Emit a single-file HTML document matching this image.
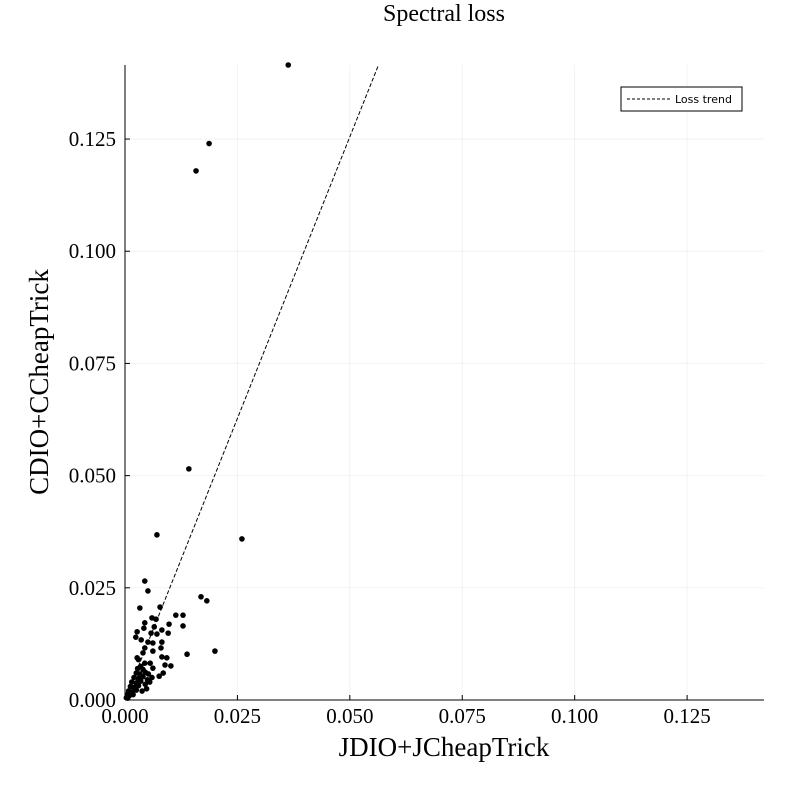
<!DOCTYPE html>
<html><head><meta charset="utf-8"><style>
body{margin:0;background:#fff;}
svg text{font-family:"Liberation Serif",serif;fill:#000;}
</style></head><body>
<svg id="chart" width="800" height="800" xmlns="http://www.w3.org/2000/svg">
<text x="444" y="21" font-size="24" text-anchor="middle">Spectral loss</text>
<g id="grid"></g>
<g id="axes"></g>
<g id="marks"></g>
<text x="444" y="756" font-size="27" text-anchor="middle">JDIO+JCheapTrick</text>
<text transform="translate(48,382) rotate(-90)" font-size="27" text-anchor="middle">CDIO+CCheapTrick</text>
<g>
<rect x="621" y="87" width="121" height="24" fill="#fff" stroke="#000" stroke-width="1"/>
<line x1="627" y1="99" x2="670" y2="99" stroke="#000" stroke-dasharray="3,2"/>
<text x="675" y="103" font-size="11" style="font-family:'DejaVu Sans',sans-serif">Loss trend</text>
</g>
</svg>
<script>
const xTicks=[0,0.025,0.05,0.075,0.1,0.125];
const yTicks=[0,0.025,0.05,0.075,0.1,0.125];
const tickLabels=["0.000","0.025","0.050","0.075","0.100","0.125"];
const xVals=[0.0363,0.0187,0.0158,0.0142,0.0071,0.0260,0.0044,0.0051,0.0169,0.0182,0.0033,0.0078,0.0113,0.0129,0.0060,0.0069,0.0129,0.0098,0.0044,0.0042,0.0065,0.0082,0.0027,0.0096,0.0058,0.0071,0.0024,0.0036,0.0051,0.0062,0.0082,0.0044,0.0080,0.0062,0.0138,0.0200,0.0040,0.0082,0.0093,0.0027,0.0056,0.0089,0.0102,0.0044,0.0062,0.0085,0.0076,0.0030,0.0035,0.0028,0.0040,0.0025,0.0033,0.0045,0.0020,0.0030,0.0040,0.0015,0.0025,0.0035,0.0050,0.0012,0.0020,0.0030,0.0008,0.0015,0.0025,0.0005,0.0010,0.0018,0.0003,0.0006,0.0045,0.0055,0.0048,0.0038,0.0060,0.0052];
const yVals=[0.1415,0.1240,0.1179,0.0515,0.0368,0.0359,0.0265,0.0243,0.0230,0.0221,0.0205,0.0207,0.0189,0.0189,0.0183,0.0180,0.0165,0.0169,0.0172,0.0160,0.0163,0.0156,0.0152,0.0149,0.0149,0.0147,0.0140,0.0134,0.0129,0.0127,0.0129,0.0116,0.0116,0.0109,0.0102,0.0109,0.0105,0.0096,0.0094,0.0094,0.0082,0.0078,0.0076,0.0082,0.0071,0.0060,0.0053,0.0090,0.0075,0.0070,0.0068,0.0060,0.0058,0.0062,0.0050,0.0048,0.0052,0.0040,0.0038,0.0042,0.0045,0.0030,0.0028,0.0032,0.0020,0.0018,0.0022,0.0012,0.0010,0.0012,0.0005,0.0004,0.0035,0.0040,0.0025,0.0020,0.0050,0.0058];
const trendSlope=[2.51];
const L=125,R=764,T=65,B=700,XMAX=0.1421,YMAX=0.1415;
const sx=v=>L+v/XMAX*(R-L), sy=v=>B-v/YMAX*(B-T);
const NS="http://www.w3.org/2000/svg";
function mk(t,a,p){const e=document.createElementNS(NS,t);for(const k in a)e.setAttribute(k,a[k]);p.appendChild(e);return e;}
const grid=document.getElementById('grid'),axes=document.getElementById('axes'),marks=document.getElementById('marks');
xTicks.forEach((v,i)=>{
 const g=mk('line',{x1:sx(v),x2:sx(v),y1:T,y2:B,stroke:'#000','stroke-opacity':0.05},grid);
 
 
 const tk=mk('line',{x1:sx(v),x2:sx(v),y1:B,y2:B-5,stroke:'#000'},axes);
 
 
 const t=mk('text',{x:sx(v),y:B+23,'font-size':21,'text-anchor':'middle'},axes);t.textContent=tickLabels[i];
 
 
});
yTicks.forEach((v,i)=>{
 const g=mk('line',{x1:L,x2:R,y1:sy(v),y2:sy(v),stroke:'#000','stroke-opacity':0.05},grid);
 
 
 const tk=mk('line',{x1:L,x2:L+5,y1:sy(v),y2:sy(v),stroke:'#000'},axes);
 
 
 const t=mk('text',{x:L-9,y:sy(v)+7,'font-size':21,'text-anchor':'end'},axes);t.textContent=tickLabels[i];
 
 
});
const xa=mk('line',{x1:L,x2:R,y1:B,y2:B,stroke:'#000'},axes);


const ya=mk('line',{x1:L,x2:L,y1:T,y2:B,stroke:'#000'},axes);


const xEnd=YMAX/trendSlope[0];
const tr=mk('line',{x1:sx(0),y1:sy(0),x2:sx(xEnd),y2:sy(xEnd*trendSlope[0]),stroke:'#000','stroke-dasharray':'4,2','stroke-width':1},marks);


xVals.forEach((x,i)=>{
 const c=mk('circle',{cx:sx(x),cy:sy(yVals[i]),r:2.8,fill:'#000'},marks);
 
 
});
</script>
</body></html>
